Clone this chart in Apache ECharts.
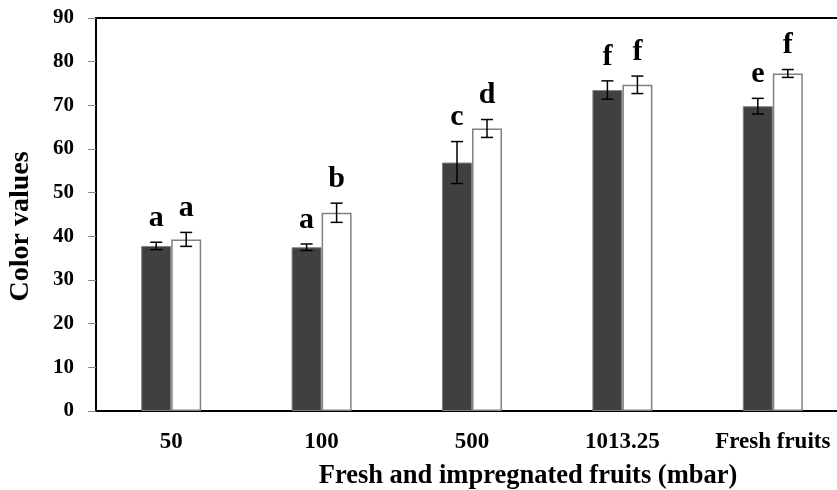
<!DOCTYPE html>
<html>
<head>
<meta charset="utf-8">
<script src="https://cdn.jsdelivr.net/npm/echarts@6/dist/echarts.min.js"></script>
<style>
html,body{margin:0;padding:0;background:#fff;}
#c{width:837px;height:490px;}
</style>
</head>
<body>
<div id="c"></div>
<script>
var categories = ['50', '100', '500', '1013.25', 'Fresh fruits'];
var darkValues = [37.8, 37.5, 56.9, 73.5, 69.8];
var darkErrors = [0.85, 0.75, 4.8, 2.1, 1.8];
var whiteValues = [39.3, 45.4, 64.7, 74.7, 77.3];
var whiteErrors = [1.6, 2.2, 2.05, 2.0, 0.9];
var darkLetters = ['a', 'a', 'c', 'f', 'e'];
var whiteLetters = ['a', 'b', 'd', 'f', 'f'];
var yTicks = [0, 10, 20, 30, 40, 50, 60, 70, 80, 90];

var FONT = '"Liberation Serif", "Times New Roman", serif';
var BAR_W = 30;
var categoriesLetters = [darkLetters, whiteLetters];

function errData(vals, errs) {
  return vals.map(function (v, i) { return [i, v, errs[i]]; });
}

function errRender(side) {
  return function (params, api) {
    var idx = api.value(0);
    var v = api.value(1);
    var e = api.value(2);
    var letter = categoriesLetters[side][idx];
    var c = api.coord([idx, v]);
    var x = c[0] + (side === 0 ? -BAR_W / 2 : BAR_W / 2);
    var top = api.coord([idx, v + e])[1];
    var bot = api.coord([idx, v - e])[1];
    var cap = 6;
    var st = { stroke: '#000', lineWidth: 1.5 };
    return {
      type: 'group',
      children: [
        { type: 'line', shape: { x1: x, y1: top, x2: x, y2: bot }, style: st },
        { type: 'line', shape: { x1: x - cap, y1: top, x2: x + cap, y2: top }, style: st },
        { type: 'line', shape: { x1: x - cap, y1: bot, x2: x + cap, y2: bot }, style: st },
        { type: 'text', style: { text: letter, x: x, y: top - 9, align: 'center', verticalAlign: 'bottom',
          font: 'bold 30px ' + FONT, fill: '#000' } }
      ]
    };
  };
}

var chart = echarts.init(document.getElementById('c'), null, { renderer: 'canvas' });
chart.setOption({
  animation: false,
  backgroundColor: '#fff',
  grid: { left: 96, top: 18, width: 752, height: 393, show: true, borderColor: '#000', borderWidth: 2,
    containLabel: false, outerBoundsMode: 'none' },
  xAxis: {
    type: 'category',
    data: categories,
    axisLine: { lineStyle: { color: '#000', width: 2 } },
    axisTick: { show: false },
    axisLabel: { color: '#000', fontFamily: FONT, fontWeight: 'bold', fontSize: 23, margin: 20 },
    name: 'Fresh and impregnated fruits (mbar)',
    nameLocation: 'middle',
    nameGap: 52,
    nameTextStyle: { color: '#000', fontFamily: FONT, fontWeight: 'bold', fontSize: 26.5, padding: [0, 0, 0, 112] }
  },
  yAxis: {
    type: 'value',
    min: 0, max: 90, interval: 10,
    splitLine: { show: false },
    axisLine: { show: true, lineStyle: { color: '#000', width: 2 } },
    axisTick: { show: true, inside: false, length: 8, lineStyle: { color: '#888', width: 1 } },
    axisLabel: { color: '#000', fontFamily: FONT, fontWeight: 'bold', fontSize: 21, margin: 22,
      formatter: function (v) { return yTicks.indexOf(v) >= 0 ? String(v) : ''; } },
    name: 'Color values',
    nameLocation: 'middle',
    nameGap: 61,
    nameTextStyle: { color: '#000', fontFamily: FONT, fontWeight: 'bold', fontSize: 28, padding: [0, 0, 0, -24] }
  },
  series: [
    { type: 'bar', data: darkValues, barWidth: BAR_W, barGap: '0%',
      itemStyle: { color: '#404040', borderColor: '#808080', borderWidth: 1 } },
    { type: 'bar', data: whiteValues, barWidth: BAR_W, barGap: '0%',
      itemStyle: { color: '#ffffff', borderColor: '#808080', borderWidth: 1.5 } },
    { type: 'custom', data: errData(darkValues, darkErrors), renderItem: errRender(0), z: 10 },
    { type: 'custom', data: errData(whiteValues, whiteErrors), renderItem: errRender(1), z: 10 }
  ]
});
</script>
</body>
</html>
